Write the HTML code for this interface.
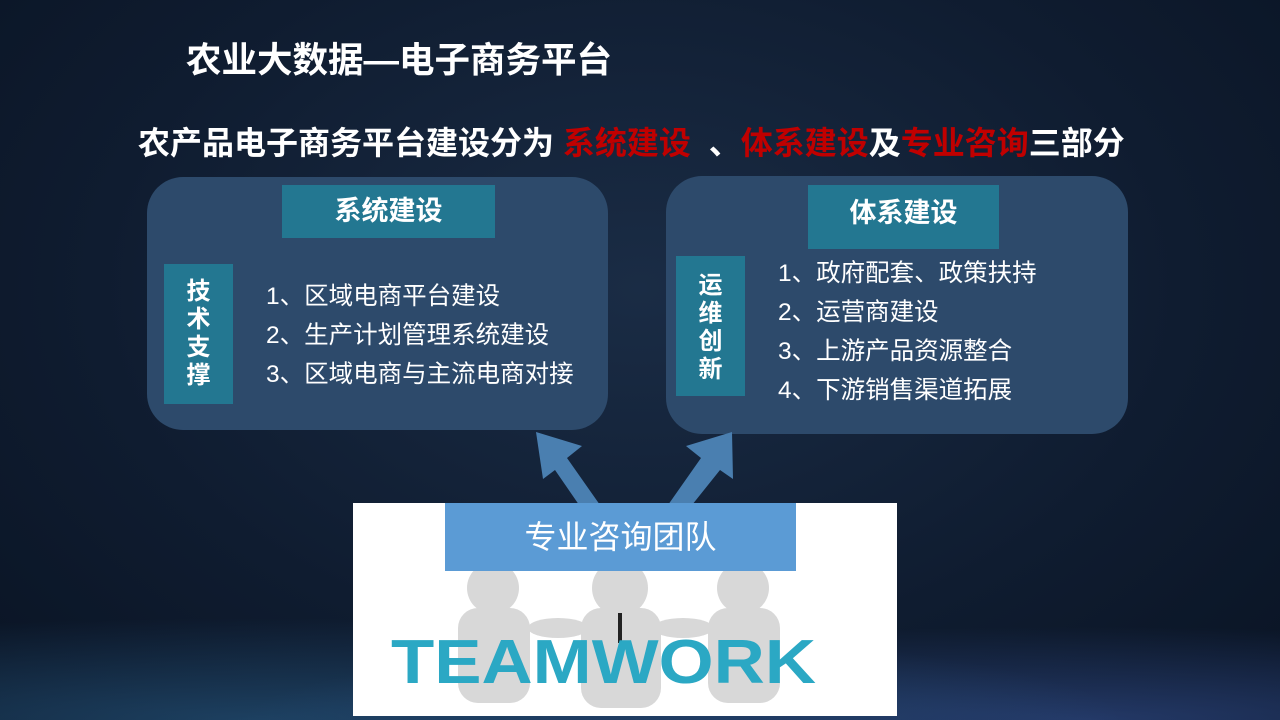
<!DOCTYPE html>
<html><head><meta charset="utf-8"><style>
*{margin:0;padding:0;box-sizing:border-box}
body{width:1280px;height:720px;overflow:hidden;position:relative;font-family:"Liberation Sans","Noto Sans CJK SC",sans-serif;background:radial-gradient(ellipse at 50% 40%,#1a2c45 0%,#0f1c30 60%,#0a1424 100%);color:#fff}
.abs{position:absolute}
.box{position:absolute;background:#2d4a6b;border-radius:36px}
.hdr{position:absolute;background:#237791;color:#fff;font-weight:bold;font-size:27px;text-align:center}
.side{position:absolute;background:#237791;color:#fff;font-weight:bold;font-size:24px;text-align:center;line-height:28px}
.list{position:absolute;font-size:24.5px;line-height:39px;color:#fff;white-space:nowrap}
.red{color:#c00000}
</style></head><body>
<div class="abs" style="left:0;top:600px;width:1280px;height:120px;background:radial-gradient(ellipse at 20% 100%,rgba(60,140,200,.35),transparent 60%),radial-gradient(ellipse at 85% 100%,rgba(80,120,220,.35),transparent 55%)"></div>
<div class="abs" style="left:186px;top:32px;font-size:35.5px;font-weight:bold;white-space:nowrap">农业大数据—电子商务平台</div>
<div class="abs" style="left:138px;top:118px;font-size:32px;font-weight:bold;white-space:nowrap">农产品电子商务平台建设分为 <span class="red">系统建设</span> &nbsp;、<span class="red">体系建设</span>及<span class="red">专业咨询</span>三部分</div>

<div class="box" style="left:147px;top:177px;width:461px;height:253px"></div>
<div class="hdr" style="left:282px;top:185px;width:213px;height:53px;line-height:53px">系统建设</div>
<div class="side" style="left:164px;top:264px;width:69px;height:140px;padding-top:14px">技<br>术<br>支<br>撑</div>
<div class="list" style="left:266px;top:277px">1、区域电商平台建设<br>2、生产计划管理系统建设<br>3、区域电商与主流电商对接</div>

<div class="box" style="left:666px;top:176px;width:462px;height:258px"></div>
<div class="hdr" style="left:808px;top:185px;width:191px;height:64px;line-height:56px">体系建设</div>
<div class="side" style="left:676px;top:256px;width:69px;height:140px;padding-top:16px">运<br>维<br>创<br>新</div>
<div class="list" style="left:778px;top:254px">1、政府配套、政策扶持<br>2、运营商建设<br>3、上游产品资源整合<br>4、下游销售渠道拓展</div>

<svg class="abs" style="left:0;top:0" width="1280" height="720">
<polygon points="600,505 567,458 582,446 536,432 543,479 555,470 586,515" fill="#4a7fb0"/>
<polygon points="668,505 701,458 686,446 732,432 733,479 720,470 684,515" fill="#4a7fb0"/>
</svg>

<div class="abs" style="left:353px;top:503px;width:544px;height:213px;background:#fff;overflow:hidden">
  <svg width="544" height="213">
    <g fill="#d8d8d8">
      <circle cx="140" cy="85" r="26"/><rect x="105" y="105" width="72" height="95" rx="20"/>
      <circle cx="267" cy="85" r="28"/><rect x="228" y="105" width="80" height="100" rx="20"/>
      <circle cx="390" cy="85" r="26"/><rect x="355" y="105" width="72" height="95" rx="20"/>
      <ellipse cx="205" cy="125" rx="30" ry="10"/><ellipse cx="330" cy="125" rx="30" ry="10"/>
    </g>
    <rect x="265" y="110" width="4" height="30" fill="#222"/>
    <text x="38" y="180" font-family="Liberation Sans,sans-serif" font-weight="bold" font-size="62" fill="#2ba8c4" textLength="425" lengthAdjust="spacingAndGlyphs">TEAMWORK</text>
  </svg>
</div>
<div class="abs" style="left:445px;top:503px;width:351px;height:68px;background:#5b9bd5;color:#fff;font-size:32px;text-align:center;line-height:68px">专业咨询团队</div>
</body></html>
